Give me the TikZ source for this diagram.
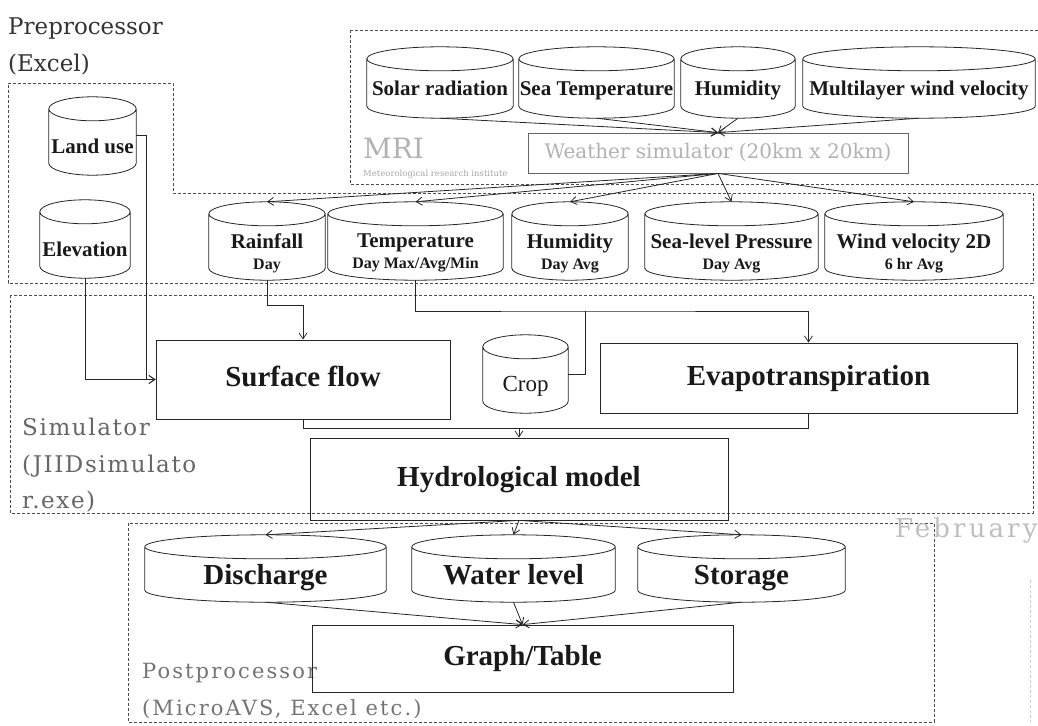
\documentclass[tikz,border=0pt]{standalone}
\usepackage{fontspec}
\setmainfont{Liberation Serif}
\newfontfamily\scanfont{DejaVu Serif}
\newfontfamily\scansim[LetterSpace=7]{DejaVu Serif}
\newfontfamily\scanpost[LetterSpace=10]{DejaVu Serif}
\newfontfamily\scanfeb[LetterSpace=12]{DejaVu Serif}
\usetikzlibrary{arrows.meta,calc}

\newcommand{\mainsize}{\fontsize{21}{24}\selectfont\bfseries}
\newcommand{\subsize}{\fontsize{16}{18}\selectfont\bfseries}
\newcommand{\bigsize}{\fontsize{29}{32}\selectfont\bfseries}

\tikzset{
  drum/.style={inner sep=0pt, align=center, text=black!90, font=\mainsize},
  oneline/.style={text height=15pt, text depth=5pt},
  bigline/.style={text height=20pt, text depth=6pt},
  drumline/.style={draw=black!85, line width=0.8pt},
  proc/.style={draw=black!85, line width=0.8pt, inner sep=0pt, text=black!90, font=\bigsize, bigline},
  group/.style={draw=black!70, line width=0.6pt, dash pattern=on 3pt off 2pt},
  link/.style={draw=black!85, line width=0.8pt},
  grouplabel/.style={anchor=north west, inner sep=0pt, align=left},
}

\begin{document}
\begin{tikzpicture}[x=1pt,y=-1pt,>={Straight Barb[length=6pt,width=8pt]}]
\useasboundingbox (0,0) rectangle (1038,725);

% frames of the four parts
\draw[group](350,30)rectangle(1050,184);
\draw[group](8,83)--(173,83)--(173,193)--(1033,193)--(1033,283)--(8,283)--cycle;
\draw[group](10,295)rectangle(1033,513);
\draw[group](128,523)rectangle(934,722);
\draw[group,draw=black!20](1030,580)--(1030,722);

\node[grouplabel,text=black!80,font=\scanfont\fontsize{23}{37}\selectfont](prelabel)at(8,18){Preprocessor\\(Excel)};
\node[grouplabel,text=black!30,font=\scanfont\fontsize{28}{30}\selectfont](mrilabel)at(363,138){MRI};
\node[grouplabel,text=black!35,font=\scanfont\fontsize{8.5}{10}\selectfont](mriname)at(363,170){Meteorological research institute};
\node[grouplabel,text=black!60,font=\scansim\fontsize{23}{36.5}\selectfont](simlabel)at(22,418){Simulator\\(JIIDsimulato\\r.exe)};
\node[grouplabel,text=black!55,font=\scanpost\fontsize{21}{37}\selectfont](postlabel)at(142,663){Postprocessor\\(MicroAVS, Excel etc.)};
\node[anchor=base west,inner sep=0pt,text=black!25,font=\scanfeb\fontsize{26}{28}\selectfont](febr)at(895,537){February};

% weather data
\node[drum,oneline,text depth=14pt,minimum width=146pt,minimum height=47pt](solar)at(440,94.5){Solar radiation};
\node[drum,oneline,text depth=14pt,minimum width=155pt,minimum height=47pt](seatemp)at(596.5,94.5){Sea Temperature};
\node[drum,oneline,text depth=14pt,minimum width=114pt,minimum height=47pt](humidA)at(738,94.5){Humidity};
\node[drum,oneline,text depth=14pt,minimum width=232pt,minimum height=47pt](multi)at(919,94.5){Multilayer wind velocity};
\node[proc,draw=black!60,text=black!30,font=\scanfont\fontsize{20}{22}\selectfont,text height=15pt,text depth=4pt,
  minimum width=380pt,minimum height=40pt](wsim)at(718,153){Weather simulator (20km x 20km)};

\node[drum,minimum width=116pt,minimum height=54pt](rain)at(267,253){Rainfall\\[-3pt]{\subsize Day}};
\node[drum,minimum width=175pt,minimum height=54pt](temp)at(415.5,253){Temperature\\[-3pt]{\subsize Day Max/Avg/Min}};
\node[drum,minimum width=116pt,minimum height=54pt](humidB)at(570,253){Humidity\\[-3pt]{\subsize Day Avg}};
\node[drum,minimum width=173pt,minimum height=54pt](slp)at(731.5,253){Sea-level Pressure\\[-3pt]{\subsize Day Avg}};
\node[drum,minimum width=178pt,minimum height=54pt](wind)at(914,253){Wind velocity 2D\\[-3pt]{\subsize 6 hr Avg}};

\node[drum,oneline,minimum width=87pt,minimum height=54pt](landuse)at(92.5,148){Land use};
\node[drum,oneline,minimum width=90pt,minimum height=54pt](elev)at(85,251){Elevation};

% simulator
\node[proc,minimum width=294pt,minimum height=79pt](surf)at(303,379.5){Surface flow};
\node[drum,font=\fontsize{23}{25}\selectfont,text height=16pt,text depth=5pt,minimum width=85pt,minimum height=54pt](crop)at(525.5,386){Crop};
\node[proc,minimum width=417pt,minimum height=70pt](evap)at(808.5,378){Evapotranspiration};
\node[proc,minimum width=418pt,minimum height=82pt](hydro)at(519,479){Hydrological model};

% results
\node[drum,font=\bigsize,bigline,text depth=12pt,minimum width=241pt,minimum height=43pt](discharge)at(265.5,580.5){Discharge};
\node[drum,font=\bigsize,bigline,text depth=12pt,minimum width=203pt,minimum height=43pt](water)at(513.5,580.5){Water level};
\node[drum,font=\bigsize,bigline,text depth=12pt,minimum width=207pt,minimum height=43pt](storage)at(741.5,580.5){Storage};
\node[proc,minimum width=421pt,minimum height=67pt](graph)at(522.5,658.5){Graph/Table};

\foreach \c in {solar,seatemp,humidA,multi,rain,temp,humidB,slp,wind,landuse,elev,crop,discharge,water,storage}
  \draw[drumline] let \p1=(\c.north west),\p2=(\c.south east),\n1={(\x2-\x1)/2} in
    (\x1,{\y1+12pt})--(\x1,{\y2+12pt}) arc[start angle=180,end angle=360,x radius=\n1*1pt,y radius=12pt]--(\x2,{\y1+12pt})
    ({\x1+\n1*1pt},{\y1+12pt}) ellipse[x radius=\n1*1pt,y radius=12pt];

% connectors
\foreach \c in {solar,seatemp,humidA,multi}
  \draw[link,->](\c.south)--(wsim.north);
\foreach \c in {rain,temp,humidB,slp,wind}
  \draw[link,->](wsim.south)--([yshift=24pt]\c.north);

\coordinate (tj) at (585,311);
\coordinate (hj) at (519,428);
\draw[link,->](elev.south)|-(surf.west);
\draw[link,->]([yshift=13pt]landuse.east)--++(10,0)|-(surf.west);
\draw[link,->](rain.south)--++(0,25)-|(surf.north);
\draw[link,->](temp.south)|-(tj)-|(evap.north);
\draw[link]([yshift=12pt]crop.east)-|(tj);
\draw[link](surf.south)|-(hj);
\draw[link](evap.south)|-(hj);
\draw[link,->](hj)--(hydro.north);

\foreach \c in {discharge,water,storage}
  \draw[link,->](hydro.south)--([yshift=24pt]\c.north);
\foreach \c in {discharge,water,storage}
  \draw[link,->](\c.south)--(graph.north);
\end{tikzpicture}
\end{document}
